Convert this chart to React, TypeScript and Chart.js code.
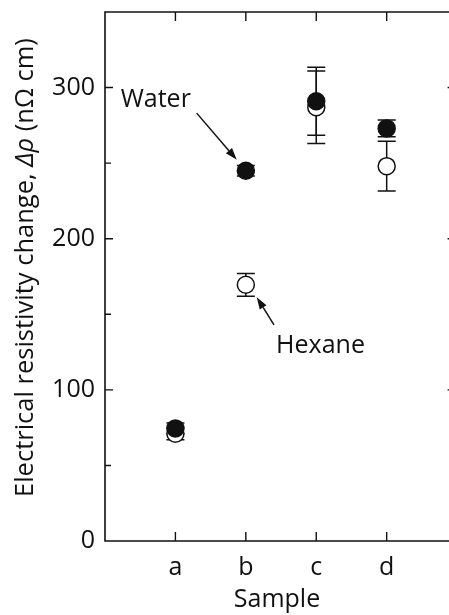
import React, { useEffect, useRef } from 'react';
import { Chart, registerables } from 'chart.js';

Chart.register(...registerables);

const FONT = '"Open Sans", sans-serif';
const INK = '#111111';

// data
const categories = ['a', 'b', 'c', 'd'];
const categoryPositions = [1, 2, 3, 4];
const waterValues = [74.5, 245, 291, 273];
const waterErrors = [3.5, 3.5, 22.5, 5.5];
const hexaneValues = [71, 169.5, 287, 248];
const hexaneErrors = [4, 7.5, 24, 16.5];
const yTicks = [0, 100, 200, 300];
const yMinorTicks = [50, 150, 250];
const xMin = 0;
const xMax = 4.885;
const xFrameRight = 5;
const yMin = 0;
const yMax = 350;

// annotations (data units)
const annotationLabels = ['Water', 'Hexane'];
const annotationTextX = [0.223, 2.43];
const annotationTextY = [287.4, 124.1];
const arrowFromX = [1.302, 2.4];
const arrowFromY = [283.1, 143];
const arrowToX = [1.871, 2.155];
const arrowToY = [252.2, 161.3];

const yTitleParts = [
  { text: 'Electrical resistivity change, ', italic: false },
  { text: 'Δρ', italic: true },
  { text: ' (nΩ cm)', italic: false },
];
const xTitle = 'Sample';

const FS = 25;
const TITLE_FS = 25.5;

const errorBarPlugin = {
  id: 'errorBars',
  beforeDatasetsDraw(chart: any) {
    const { ctx } = chart;
    const xs = chart.scales.x;
    const ys = chart.scales.y;
    const series = [
      { v: waterValues, e: waterErrors },
      { v: hexaneValues, e: hexaneErrors },
    ];
    ctx.save();
    ctx.strokeStyle = INK;
    ctx.lineWidth = 1.5;
    series.forEach((s) => {
      s.v.forEach((val, i) => {
        const px = xs.getPixelForValue(categoryPositions[i]);
        const top = ys.getPixelForValue(val + s.e[i]);
        const bot = ys.getPixelForValue(val - s.e[i]);
        ctx.beginPath();
        ctx.moveTo(px, top);
        ctx.lineTo(px, bot);
        ctx.moveTo(px - 9, top);
        ctx.lineTo(px + 9, top);
        ctx.moveTo(px - 9, bot);
        ctx.lineTo(px + 9, bot);
        ctx.stroke();
      });
    });
    ctx.restore();
  },
};

const framePlugin = {
  id: 'frame',
  afterDraw(chart: any) {
    const { ctx, chartArea } = chart;
    const xs = chart.scales.x;
    const ys = chart.scales.y;
    const { left, top, bottom } = chartArea;
    const right = xs.getPixelForValue(xFrameRight);
    ctx.save();
    ctx.strokeStyle = INK;
    ctx.lineWidth = 1.6;
    ctx.beginPath();
    ctx.moveTo(right, top);
    ctx.lineTo(left, top);
    ctx.lineTo(left, bottom);
    ctx.lineTo(right, bottom);
    ctx.stroke();
    ctx.lineWidth = 1.4;
    ctx.beginPath();
    yTicks.forEach((v) => {
      const py = ys.getPixelForValue(v);
      if (v === 0) return;
      ctx.moveTo(left, py);
      ctx.lineTo(left + 8, py);
      ctx.moveTo(right, py);
      ctx.lineTo(right - 9.5, py);
    });
    yMinorTicks.forEach((v) => {
      const py = ys.getPixelForValue(v);
      ctx.moveTo(left, py);
      ctx.lineTo(left + 6, py);
    });
    categoryPositions.forEach((v) => {
      const px = xs.getPixelForValue(v);
      ctx.moveTo(px, top);
      ctx.lineTo(px, top + 9);
      ctx.moveTo(px, bottom);
      ctx.lineTo(px, bottom - 9);
    });
    ctx.stroke();

    // y title
    ctx.fillStyle = INK;
    ctx.translate(33, 497);
    ctx.rotate(-Math.PI / 2);
    ctx.textBaseline = 'alphabetic';
    ctx.textAlign = 'left';
    let cx = 0;
    yTitleParts.forEach((p) => {
      ctx.font = `${p.italic ? 'italic ' : ''}${TITLE_FS}px ${FONT}`;
      ctx.fillText(p.text, cx, 0);
      cx += ctx.measureText(p.text).width;
    });
    ctx.restore();

    // annotations
    ctx.save();
    ctx.fillStyle = INK;
    ctx.strokeStyle = INK;
    ctx.font = `${FS}px ${FONT}`;
    ctx.textBaseline = 'alphabetic';
    ctx.textAlign = 'left';
    annotationLabels.forEach((t, i) => {
      ctx.fillText(t, xs.getPixelForValue(annotationTextX[i]), ys.getPixelForValue(annotationTextY[i]));
      const x0 = xs.getPixelForValue(arrowFromX[i]);
      const y0 = ys.getPixelForValue(arrowFromY[i]);
      const x1 = xs.getPixelForValue(arrowToX[i]);
      const y1 = ys.getPixelForValue(arrowToY[i]);
      const ang = Math.atan2(y1 - y0, x1 - x0);
      const L = 12;
      const W = 4;
      const bx = x1 - L * Math.cos(ang);
      const by = y1 - L * Math.sin(ang);
      ctx.lineWidth = 1.5;
      ctx.beginPath();
      ctx.moveTo(x0, y0);
      ctx.lineTo(bx, by);
      ctx.stroke();
      ctx.beginPath();
      ctx.moveTo(x1, y1);
      ctx.lineTo(bx + W * Math.sin(ang), by - W * Math.cos(ang));
      ctx.lineTo(bx - W * Math.sin(ang), by + W * Math.cos(ang));
      ctx.closePath();
      ctx.fill();
    });
    ctx.restore();
  },
};

const zeroPad = (s: any) => {
  s.paddingTop = 0;
  s.paddingBottom = 0;
  s.paddingLeft = 0;
  s.paddingRight = 0;
};

export default function App() {
  const ref = useRef<HTMLCanvasElement | null>(null);
  useEffect(() => {
    if (!ref.current) return;
    const chart = new Chart(ref.current, {
      type: 'scatter',
      data: {
        datasets: [
          {
            label: 'Water',
            data: categoryPositions.map((x, i) => ({ x, y: waterValues[i] })),
            pointRadius: 8.5,
            pointBackgroundColor: INK,
            pointBorderColor: INK,
            pointBorderWidth: 1.5,
            showLine: false,
          },
          {
            label: 'Hexane',
            data: categoryPositions.map((x, i) => ({ x, y: hexaneValues[i] })),
            pointRadius: 8.5,
            pointBackgroundColor: '#ffffff',
            pointBorderColor: INK,
            pointBorderWidth: 1.5,
            showLine: false,
          },
        ],
      },
      options: {
        animation: false,
        responsive: false,
        devicePixelRatio: 1,
        layout: { autoPadding: false, padding: { left: 0, top: 12, right: 0, bottom: 0 } },
        plugins: { legend: { display: false }, tooltip: { enabled: false } },
        scales: {
          x: {
            type: 'linear',
            min: xMin,
            max: xMax,
            grid: { display: false, drawTicks: false },
            border: { display: false },
            afterBuildTicks: (s: any) => {
              s.ticks = categoryPositions.map((v) => ({ value: v }));
            },
            afterFit: (s: any) => {
              s.height = 74;
              zeroPad(s);
            },
            ticks: {
              autoSkip: false,
              maxRotation: 0,
              padding: 12,
              color: INK,
              font: { family: FONT, size: FS },
              callback: (v: any) => {
                const i = categoryPositions.indexOf(Number(v));
                return i >= 0 ? categories[i] : '';
              },
            },
            title: {
              display: true,
              text: xTitle,
              color: INK,
              font: { family: FONT, size: FS },
              padding: { top: 0, bottom: 0 },
            },
          },
          y: {
            min: yMin,
            max: yMax,
            grid: { display: false, drawTicks: false },
            border: { display: false },
            afterBuildTicks: (s: any) => {
              s.ticks = yTicks.map((v) => ({ value: v }));
            },
            afterFit: (s: any) => {
              s.width = 105;
              zeroPad(s);
            },
            ticks: {
              padding: 10,
              color: INK,
              font: { family: FONT, size: FS },
            },
          },
        },
      },
      plugins: [errorBarPlugin, framePlugin],
    });
    return () => chart.destroy();
  }, []);
  return (
    <div style={{ position: 'fixed', left: 0, top: 0, width: 449, height: 615, background: '#fff' }}>
      <canvas ref={ref} width={449} height={615} style={{ width: 449, height: 615 }} />
    </div>
  );
}
